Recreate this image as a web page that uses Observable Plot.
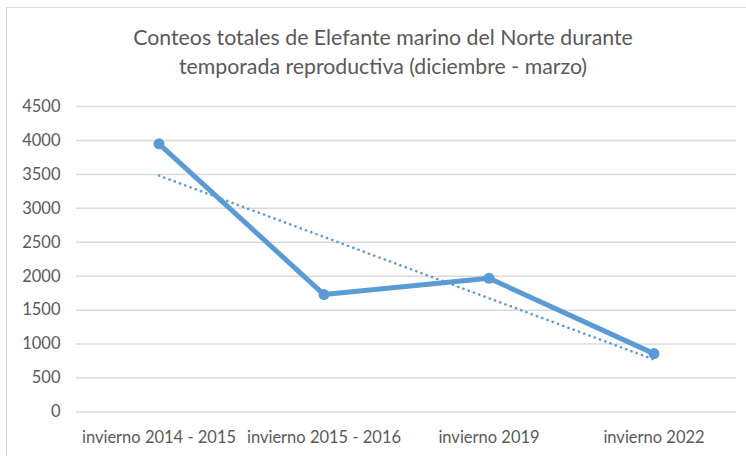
<!DOCTYPE html>
<html>
<head>
<meta charset="utf-8">
<script src="https://cdn.jsdelivr.net/npm/d3@7"></script>
<script src="https://cdn.jsdelivr.net/npm/@observablehq/plot@0.6"></script>
<style>
  html, body { margin: 0; padding: 0; background: #fff; }
  #wrap { position: relative; width: 746px; height: 456px; overflow: hidden; font-family: Lato, "Open Sans", sans-serif; }
  #frame { position: absolute; left: 6px; top: 7px; width: 760px; height: 470px; border: 1.5px solid #d9d9d9; box-sizing: border-box; }
  #title { position: absolute; left: 0; top: 23px; width: 766px; text-align: center; font-size: 21.3px; line-height: 29px; color: #595959; }
  #chart { position: absolute; left: 0; top: 90px; }
</style>
</head>
<body>
<div id="wrap">
  <div id="frame"></div>
  <div id="title">Conteos totales de Elefante marino del Norte durante<br>temporada reproductiva (diciembre - marzo)</div>
  <div id="chart"></div>
</div>
<script>
const categories = ["invierno 2014 - 2015", "invierno 2015 - 2016", "invierno 2019", "invierno 2022"];
const counts = [3950, 1730, 1970, 860];
const yTicks = [0, 500, 1000, 1500, 2000, 2500, 3000, 3500, 4000, 4500];

const data = categories.map((c, i) => ({idx: i + 1, label: c, value: counts[i]}));
const blue = "#5b9bd5";

const plot = Plot.plot({
  width: 746,
  height: 366,
  marginTop: 16,
  marginBottom: 44.5,
  marginLeft: 76,
  marginRight: 10,
  style: {fontFamily: "Lato, 'Open Sans', sans-serif", fontSize: "16.5px", color: "#595959", background: "transparent"},
  x: {domain: [0.5, 4.5], axis: null},
  y: {domain: [0, 4500], axis: null},
  marks: [
    Plot.ruleY(yTicks, {stroke: "#d9d9d9", strokeWidth: 1.5}),
    Plot.axisY({ticks: yTicks, tickFormat: d3.format("d"), tickSize: 0, tickPadding: 16, fontSize: 16.5, fill: "#595959", label: null}),
    Plot.axisX({ticks: [1, 2, 3, 4], tickFormat: (d) => categories[d - 1], tickSize: 0, tickPadding: 19, fontSize: 16.5, fill: "#595959", label: null}),
    Plot.linearRegressionY(data, {x: "idx", y: "value", ci: 0, stroke: blue, strokeWidth: 2.6, strokeDasharray: "0.1,5.5", strokeLinecap: "round"}),
    Plot.line(data, {x: "idx", y: "value", stroke: blue, strokeWidth: 5}),
    Plot.dot(data, {x: "idx", y: "value", r: 5.5, fill: blue, stroke: "none"})
  ]
});
document.getElementById("chart").appendChild(plot);
</script>
</body>
</html>
